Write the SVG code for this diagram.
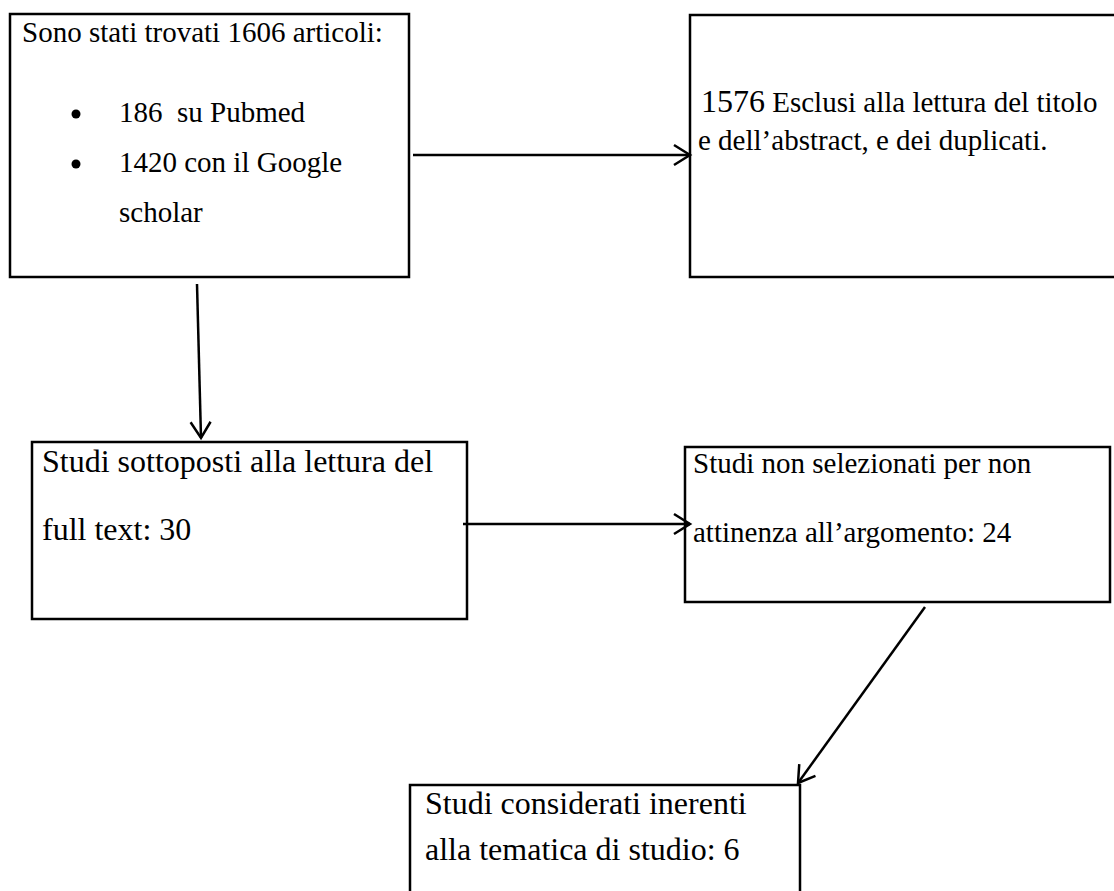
<svg xmlns="http://www.w3.org/2000/svg" width="1114" height="891" viewBox="0 0 1114 891">
<style>
.box{fill:#fff;stroke:#000;stroke-width:2.5}
.t{font-family:"Liberation Serif","Times New Roman",serif;fill:#000}
.s29{font-size:29px}
.s32{font-size:32px}
.conn{stroke:#000;stroke-width:2.5;fill:none}
</style>
<defs>
<marker id="arr" markerUnits="userSpaceOnUse" markerWidth="30" markerHeight="30" viewBox="-20 -15 24 30" refX="0" refY="0" orient="auto">
<path d="M-16,-10 L0,0 L-16,10" fill="none" stroke="#000" stroke-width="2.5"/>
</marker>
</defs>
<rect width="1114" height="891" fill="#fff"/>
<g id="n1">
<rect class="box" x="10" y="14" width="399" height="263"/>
<text class="t s29" x="22" y="42">Sono stati trovati 1606 articoli:</text>
<circle cx="76" cy="114" r="4.5" fill="#000"/>
<text class="t s29" x="119" y="122" xml:space="preserve">186  su Pubmed</text>
<circle cx="76" cy="164" r="4.5" fill="#000"/>
<text class="t s29" x="119" y="172">1420 con il Google</text>
<text class="t s29" x="119" y="222">scholar</text>
</g>
<g id="n2">
<rect class="box" x="690" y="15" width="440" height="262"/>
<text class="t s29" x="701" y="112"><tspan class="s32">1576</tspan> Esclusi alla lettura del titolo</text>
<text class="t s29" x="698" y="150">e dell’abstract, e dei duplicati.</text>
</g>
<g id="n3">
<rect class="box" x="32" y="442" width="435" height="177"/>
<text class="t s32" x="42" y="472">Studi sottoposti alla lettura del</text>
<text class="t s32" x="42" y="540">full text: 30</text>
</g>
<g id="n4">
<rect class="box" x="685" y="447" width="425" height="155"/>
<text class="t s29" x="693" y="473">Studi non selezionati per non</text>
<text class="t s29" x="693" y="542">attinenza all’argomento: 24</text>
</g>
<g id="n5">
<rect class="box" x="410" y="785" width="390" height="120"/>
<text class="t s32" x="425" y="814">Studi considerati inerenti</text>
<text class="t s32" x="425" y="860">alla tematica di studio: 6</text>
</g>
<g id="connectors">
<line class="conn" x1="413" y1="155" x2="690" y2="155" marker-end="url(#arr)"/>
<line class="conn" x1="197" y1="284" x2="201" y2="438" marker-end="url(#arr)"/>
<line class="conn" x1="463" y1="524" x2="690" y2="524" marker-end="url(#arr)"/>
<line class="conn" x1="925" y1="607" x2="798" y2="783" marker-end="url(#arr)"/>
</g>
</svg>
